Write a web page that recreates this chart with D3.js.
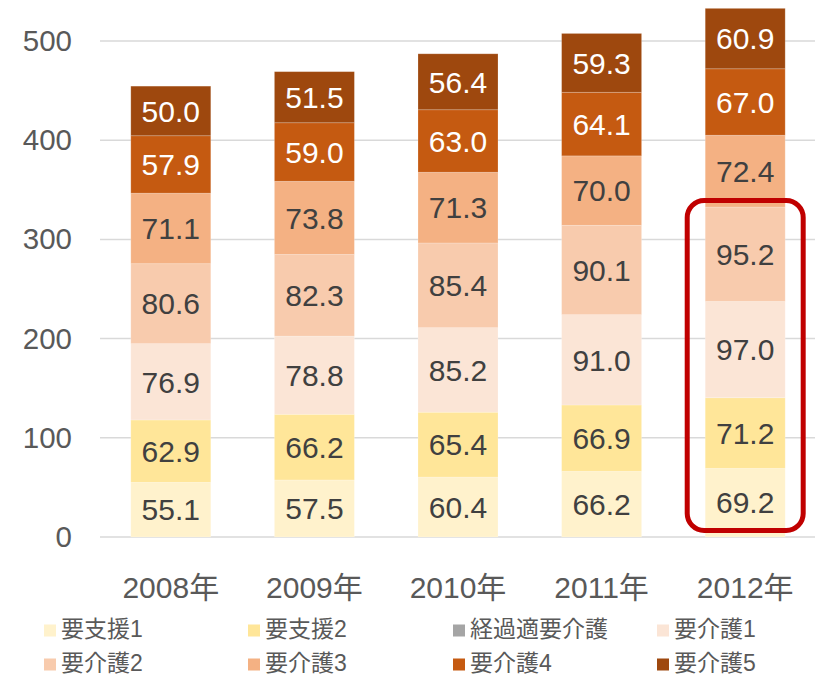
<!DOCTYPE html>
<html><head><meta charset="utf-8">
<script src="https://cdn.jsdelivr.net/npm/d3@7"></script>
<style>
body{margin:0;background:#fff;}
text{font-family:"Liberation Sans",Arial,"Noto Sans CJK JP",sans-serif;}
</style></head>
<body>
<svg id="chart" width="815" height="677"></svg>
<script>
const years = ["2008年","2009年","2010年","2011年","2012年"];
const seriesNames = ["要支援1","要支援2","経過適要介護","要介護1","要介護2","要介護3","要介護4","要介護5"];
const s1 = [55.1,57.5,60.4,66.2,69.2];
const s2 = [62.9,66.2,65.4,66.9,71.2];
const sKeika = [0,0,0,0,0];
const k1 = [76.9,78.8,85.2,91.0,97.0];
const k2 = [80.6,82.3,85.4,90.1,95.2];
const k3 = [71.1,73.8,71.3,70.0,72.4];
const k4 = [57.9,59.0,63.0,64.1,67.0];
const k5 = [50.0,51.5,56.4,59.3,60.9];
const yTicks = [0,100,200,300,400,500];
const colors = ["#FFF2CC","#FFE699","#A5A5A5","#FBE5D6","#F8CBAD","#F4B183","#C55A11","#9E480E"];
const labelColors = ["#404040","#404040","#404040","#404040","#404040","#404040","#ffffff","#ffffff"];
const highlightYear = "2012年";

const allSeries = [s1,s2,sKeika,k1,k2,k3,k4,k5];
const table = years.map((y,i)=>{const o={year:y}; seriesNames.forEach((n,j)=>o[n]=allSeries[j][i]); return o;});
const stack = d3.stack().keys(seriesNames)(table);

const svg = d3.select("#chart");
const x = d3.scaleBand().domain(years).range([99,817]).paddingInner(0.443).paddingOuter(0.2215);
const y = d3.scaleLinear().domain([0,500]).range([537,41]);

// grid
svg.append("g").selectAll("line").data(yTicks).join("line")
  .attr("x1",100).attr("x2",815).attr("y1",d=>y(d)).attr("y2",d=>y(d))
  .attr("stroke","#d9d9d9").attr("stroke-width",1.5);

// y axis labels
const yAxis = svg.append("g").attr("transform","translate(72,0)")
  .call(d3.axisLeft(y).tickValues(yTicks).tickSize(0).tickPadding(0));
yAxis.select(".domain").remove();
yAxis.selectAll("text").attr("font-size",29.5).attr("fill","#595959")
  .attr("font-family","'Liberation Sans',Arial,sans-serif");

// x axis labels
const xAxis = svg.append("g").attr("transform","translate(0,577)")
  .call(d3.axisBottom(x).tickSize(0).tickPadding(0));
xAxis.select(".domain").remove();
xAxis.selectAll("text").attr("font-size",30).attr("fill","#595959")
  .attr("font-family","'Liberation Sans',Arial,'Noto Sans CJK JP',sans-serif");

// bars
const layers = svg.append("g").selectAll("g").data(stack).join("g")
  .attr("fill",(d,i)=>colors[i]);
layers.selectAll("rect").data(d=>d).join("rect")
  .attr("x",d=>x(d.data.year)).attr("width",x.bandwidth())
  .attr("y",d=>y(d[1])).attr("height",d=>Math.max(0,y(d[0])-y(d[1])))
  .attr("stroke","#ffffff").attr("stroke-opacity",0.25).attr("stroke-width",0.8);

// value labels
const lab = svg.append("g");
stack.forEach((layer,i)=>{
  layer.forEach(d=>{
    const v = d[1]-d[0];
    if(v<=0) return;
    lab.append("text")
      .attr("x",x(d.data.year)+x.bandwidth()/2)
      .attr("y",(y(d[0])+y(d[1]))/2)
      .attr("dy","0.36em")
      .attr("text-anchor","middle")
      .attr("font-size",30)
      .attr("fill",labelColors[i])
      .text(v.toFixed(1));
  });
});

// highlight box
const hb = stack[4].find(d=>d.data.year===highlightYear);
svg.append("rect")
  .attr("x",x(highlightYear)-18).attr("width",x.bandwidth()+36)
  .attr("y",y(hb[1])-6.5).attr("height",(y(0)-6.5)-(y(hb[1])-6.5))
  .attr("rx",17).attr("ry",17)
  .attr("fill","none").attr("stroke","#C00000").attr("stroke-width",5);

// legend
const legX = [44,248,453,657];
const legY = [629,663];
const leg = svg.append("g");
seriesNames.forEach((n,i)=>{
  const cx = legX[i%4], cy = legY[Math.floor(i/4)];
  leg.append("rect").attr("x",cx).attr("y",cy-4.5).attr("width",12).attr("height",12).attr("fill",colors[i]);
  leg.append("text").attr("x",cx+17).attr("y",cy)
    .attr("dy","0.36em").attr("font-size",23).attr("fill","#595959").text(n);
});
</script>
</body></html>
